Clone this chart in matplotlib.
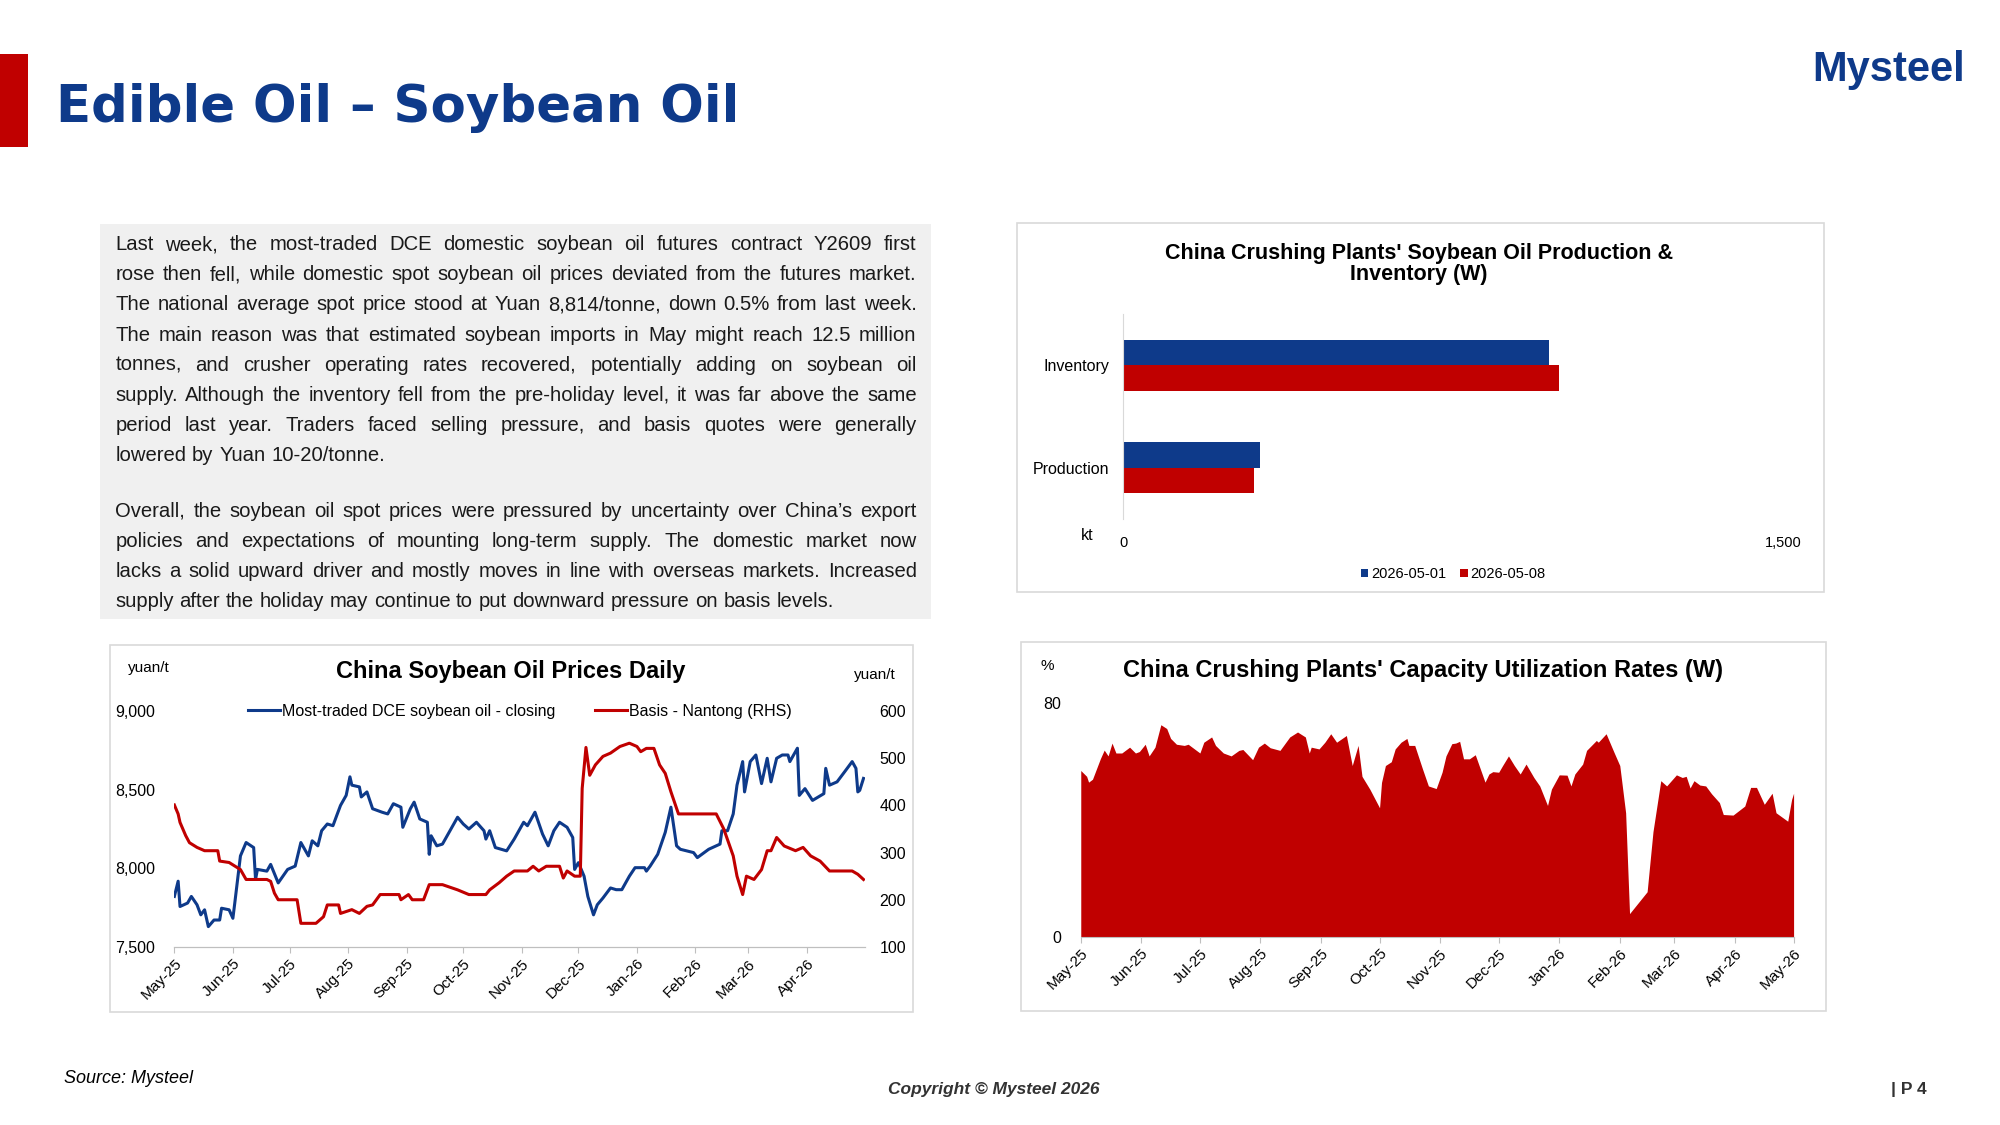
import numpy as np
import matplotlib
matplotlib.use("Agg")
import matplotlib.pyplot as plt
import matplotlib.dates as mdates
from matplotlib.patches import Rectangle

plt.rcParams['font.family'] = ['Liberation Sans', 'DejaVu Sans']

BLUE = '#0E3A8A'
RED = '#C00000'
START = np.datetime64('2025-05-01')

# ---------------- data ----------------
futures_days = [0,2,3,7,9,12,14,16,18,21,24,25,29,31,32,35,38,42,43,44,49,51,55,60,64,67,71,73,76,78,81,84,86,88,91,93,94,98,99,102,105,110,113,116,120,121,125,127,130,134,135,136,139,142,150,153,156,160,164,165,167,170,176,180,185,187,189,191,195,198,201,204,208,211,212,214,217,219,222,224,227,231,234,237,241,244,249,250,252,256,260,263,266,268,275,277,283,289,290,293,296,298,301,302,305,308,311,314,316,319,322,325,326,330,331,334,338,344,345,347,351,355,359,361,362,363,365]
futures = [7821,7918,7757,7779,7821,7768,7704,7736,7629,7671,7671,7746,7736,7682,7779,8079,8164,8132,7929,7993,7982,8025,7907,7993,8014,8164,8079,8175,8143,8239,8282,8271,8336,8400,8464,8582,8529,8518,8454,8486,8379,8357,8346,8411,8389,8261,8379,8421,8314,8293,8089,8207,8143,8154,8325,8282,8250,8293,8239,8186,8239,8132,8111,8186,8293,8271,8314,8357,8218,8143,8239,8293,8261,8196,7993,8036,7950,7821,7704,7768,7811,7875,7864,7864,7950,8004,8004,7982,8014,8089,8229,8389,8143,8121,8100,8068,8121,8154,8239,8239,8346,8529,8679,8486,8679,8721,8539,8700,8550,8700,8721,8721,8679,8764,8464,8507,8432,8475,8636,8529,8550,8614,8679,8636,8486,8496,8572]

basis_days = [0,2,3,6,8,12,16,23,24,29,35,38,43,49,51,53,55,65,67,75,79,81,87,88,94,98,102,105,109,119,120,124,126,132,135,142,150,156,165,167,172,176,180,187,190,193,197,204,206,208,212,215,216,218,220,223,227,231,236,241,245,247,250,254,257,260,263,267,287,291,296,298,301,303,307,311,314,316,319,323,329,333,337,342,347,359,362,365]
basis = [401,382,364,336,321,311,304,304,282,279,264,243,243,243,239,214,200,200,150,150,164,189,189,171,179,171,186,189,211,211,200,211,200,200,232,232,221,211,211,221,236,250,261,261,271,261,271,271,246,261,250,250,436,523,464,486,504,511,525,532,525,514,521,521,486,468,429,382,382,350,293,250,211,250,243,264,304,304,332,314,304,311,293,282,261,261,254,243]

util_days = [0,3,4,6,8,10,12,13,14,16,18,21,25,28,30,33,35,38,41,44,46,49,53,55,57,61,63,67,69,73,77,81,83,88,91,94,97,102,107,111,115,117,118,122,125,128,131,136,139,142,144,148,153,154,156,159,161,164,167,168,171,175,178,182,185,187,190,192,194,196,199,202,207,209,211,214,216,219,222,225,228,232,235,239,241,245,249,251,253,257,259,264,265,269,273,276,279,281,290,293,297,300,305,308,310,312,314,317,320,323,327,329,334,340,343,346,348,350,354,356,362,364,365]
util = [57,55,53,54,57.5,61,64,63,62,66.4,63,63,65,63,63.5,66,62,65,72.7,71.4,68,66,65.6,66,65,63,66.7,68.5,65.6,63,62,63.9,64.2,60.7,65,66.4,64.8,63.9,68.5,70.2,68.5,63,65,64.4,66.7,69.6,66.7,69,58.7,65.6,55,50.6,44.2,52.9,58.7,60,64.4,66.7,68,65.6,65.6,57.5,51.7,50.8,56.4,62,66.2,66.4,67,61,61,62.4,53,55.8,56.6,56.4,58.7,62,58.7,55.8,59.2,54.6,51.7,45,50.6,55.5,55.4,51.7,55.8,59.2,63.9,67.3,66.7,69.6,63.3,58.7,42.5,7.9,15.4,36,53.5,51.7,55.5,54.6,55,51,53.5,52,51.7,49,46,41.9,41.7,44.8,51.2,51.2,48.3,45.4,49.2,42.5,39.6,47.1,49.2]

bar_categories = ['Production', 'Inventory']
bar_dates = ['2026-05-01', '2026-05-08']
bar_0501 = [312, 967]
bar_0508 = [297, 990]

price_months = ['May-25','Jun-25','Jul-25','Aug-25','Sep-25','Oct-25','Nov-25','Dec-25','Jan-26','Feb-26','Mar-26','Apr-26']

para1 = ["Last week, the most-traded DCE domestic soybean oil futures contract Y2609 first",
         "rose then fell, while domestic spot soybean oil prices deviated from the futures market.",
         "The national average spot price stood at Yuan 8,814/tonne, down 0.5% from last week.",
         "The main reason was that estimated soybean imports in May might reach 12.5 million",
         "tonnes, and crusher operating rates recovered, potentially adding on soybean oil",
         "supply. Although the inventory fell from the pre-holiday level, it was far above the same",
         "period last year. Traders faced selling pressure, and basis quotes were generally",
         "lowered by Yuan 10-20/tonne."]
para2 = ["Overall, the soybean oil spot prices were pressured by uncertainty over China\u2019s export",
         "policies and expectations of mounting long-term supply. The domestic market now",
         "lacks a solid upward driver and mostly moves in line with overseas markets. Increased",
         "supply after the holiday may continue to put downward pressure on basis levels."]

# ---------------- layout helpers (display coords 1560x878) ----------------
W, H = 1560.0, 878.0
def fx(x): return x / W
def fy(y): return 1 - y / H
def axrect(l, t, r, b): return [fx(l), fy(b), (r - l) / W, (b - t) / H]

fig = plt.figure(figsize=(20, 11.25), dpi=100)
fig.patch.set_facecolor('white')

def box(l, t, r, b, fc='none', ec='#D9D9D9', lw=1.2):
    fig.add_artist(Rectangle((fx(l), fy(b)), (r - l) / W, (b - t) / H, transform=fig.transFigure,
                             facecolor=fc, edgecolor=ec, linewidth=lw, zorder=0))

# header
box(0, 42, 22, 115, fc=RED, ec='none')
fig.text(fx(44), fy(84), "Edible Oil \u2013 Soybean Oil", fontsize=37, fontweight='bold',
         family='DejaVu Sans', color=BLUE, va='center', ha='left')
fig.text(fx(1533), fy(55), "Mysteel", fontsize=30, fontweight='bold', color=BLUE, va='center', ha='right')

# text box
box(78, 175, 726, 483, fc='#F0F0F0', ec='none')
renderer = fig.canvas.get_renderer()
FS = 14.6
def draw_line(line, y, justify):
    words = line.split()
    ts = [fig.text(0, fy(y), w, fontsize=FS, color='#1a1a1a', va='center', ha='left') for w in words]
    widths = [t.get_window_extent(renderer).width for t in ts]
    x0, x1 = fx(90) * 2000, fx(715) * 2000
    if justify and len(words) > 1:
        gap = (x1 - x0 - sum(widths)) / (len(words) - 1)
    else:
        gap = FS * 100 / 72 * 0.28
    x = x0
    for t, w in zip(ts, widths):
        t.set_x(x / 2000)
        x += w + gap
for i, line in enumerate(para1):
    draw_line(line, 191 + i * 23.5, i < len(para1) - 1)
for i, line in enumerate(para2):
    draw_line(line, 399 + i * 23.5, i < len(para2) - 1)

# ---------------- bar chart ----------------
box(793, 174, 1423, 462)
fig.text(fx(1107), fy(206), "China Crushing Plants' Soybean Oil Production &\nInventory (W)",
         fontsize=15.5, fontweight='bold', ha='center', va='center', linespacing=1.05)
axb = fig.add_axes(axrect(876, 245, 1391, 405))
yy = np.arange(len(bar_categories))
axb.barh(yy + 0.125, bar_0501, height=0.25, color=BLUE, label=bar_dates[0])
axb.barh(yy - 0.125, bar_0508, height=0.25, color=RED, label=bar_dates[1])
axb.set_ylim(-0.5, 1.5)
axb.set_xlim(0, 1500)
axb.set_yticks(yy, bar_categories, fontsize=11.5)
axb.set_xticks([0, 1500], ['0', '1,500'], fontsize=10.5)
axb.tick_params(length=0, pad=10)
axb.tick_params(axis='x', pad=12)
for s in ['top', 'right', 'bottom']:
    axb.spines[s].set_visible(False)
axb.spines['left'].set_color('#D9D9D9')
fig.text(fx(848), fy(418), "kt", fontsize=11.5, va='center', ha='center')
axb.legend(loc='upper center', bbox_to_anchor=(0.5, -0.17), ncol=2, frameon=False, fontsize=10.5,
           handlelength=0.5, handleheight=0.5, handletextpad=0.2, columnspacing=1.0)

# ---------------- price chart ----------------
box(86, 503, 712, 790)
axp = fig.add_axes(axrect(136, 555, 675, 739))
fdates = START + np.array(futures_days).astype('timedelta64[D]')
bdates = START + np.array(basis_days).astype('timedelta64[D]')
l1, = axp.plot(fdates, futures, color=BLUE, lw=2.2, label='Most-traded DCE soybean oil - closing')
axp2 = axp.twinx()
l2, = axp2.plot(bdates, basis, color=RED, lw=2.2, label='Basis - Nantong (RHS)')
axp.set_ylim(7500, 9000)
axp.set_yticks([7500, 8000, 8500, 9000], ['7,500', '8,000', '8,500', '9,000'])
axp2.set_ylim(100, 600)
axp2.set_yticks([100, 200, 300, 400, 500, 600])
xmax = START + np.timedelta64(366, 'D')
axp.set_xlim(START, xmax)
mt = [np.datetime64(np.datetime64('2025-05') + np.timedelta64(i, 'M'), 'D') for i in range(12)]
axp.set_xticks(mt, price_months, rotation=45, ha='right', rotation_mode='anchor', fontsize=11)
for a in (axp, axp2):
    for s in ['top', 'left', 'right']:
        a.spines[s].set_visible(False)
    a.spines['bottom'].set_color('#BFBFBF')
    a.tick_params(axis='y', length=0, labelsize=11.5)
axp.tick_params(axis='x', length=4, color='#BFBFBF', pad=3)
axp.tick_params(axis='y', pad=14)
axp2.tick_params(axis='y', pad=10)
axp.legend([l1, l2], [l1.get_label(), l2.get_label()], loc='center', bbox_to_anchor=(0.5, 1.0),
           ncol=2, frameon=False, fontsize=11.5, handlelength=2.0, handletextpad=0.1, columnspacing=2.5)
fig.text(fx(398), fy(524), "China Soybean Oil Prices Daily", fontsize=17, fontweight='bold', ha='center', va='center')
fig.text(fx(100), fy(521), "yuan/t", fontsize=11, ha='left', va='center')
fig.text(fx(666), fy(527), "yuan/t", fontsize=11, ha='left', va='center')

# ---------------- utilization chart ----------------
box(796, 501, 1424, 789)
axu = fig.add_axes(axrect(843, 549, 1399, 731))
udates = START + np.array(util_days).astype('timedelta64[D]')
axu.fill_between(udates, util, 0, color=RED, lw=0)
axu.set_ylim(0, 80)
axu.set_yticks([0, 80])
mt2 = [np.datetime64(np.datetime64('2025-05') + np.timedelta64(i, 'M'), 'D') for i in range(13)]
axu.set_xticks(mt2)
axu.xaxis.set_major_formatter(mdates.DateFormatter('%b-%y'))
plt.setp(axu.get_xticklabels(), rotation=45, ha='right', rotation_mode='anchor', fontsize=11)
axu.set_xlim(mt2[0], mt2[-1])
for s in ['top', 'left', 'right']:
    axu.spines[s].set_visible(False)
axu.spines['bottom'].set_color('#BFBFBF')
axu.tick_params(axis='y', length=0, labelsize=11.5, pad=14)
axu.tick_params(axis='x', length=4, color='#BFBFBF', pad=3)
fig.text(fx(1110), fy(523), "China Crushing Plants' Capacity Utilization Rates (W)", fontsize=17,
         fontweight='bold', ha='center', va='center')
fig.text(fx(817), fy(520), "%", fontsize=11, ha='center', va='center')

# footer
fig.text(fx(50), fy(842), "Source: Mysteel", fontsize=13, style='italic', ha='left', va='center')
fig.text(fx(775), fy(850), "Copyright \u00a9 Mysteel 2026", fontsize=12.5, style='italic', fontweight='bold',
         ha='center', va='center', color='#333333')
fig.text(fx(1503), fy(850), "| P 4", fontsize=12.5, fontweight='bold', ha='right', va='center', color='#333333')

fig.savefig('out.png', dpi=100)
